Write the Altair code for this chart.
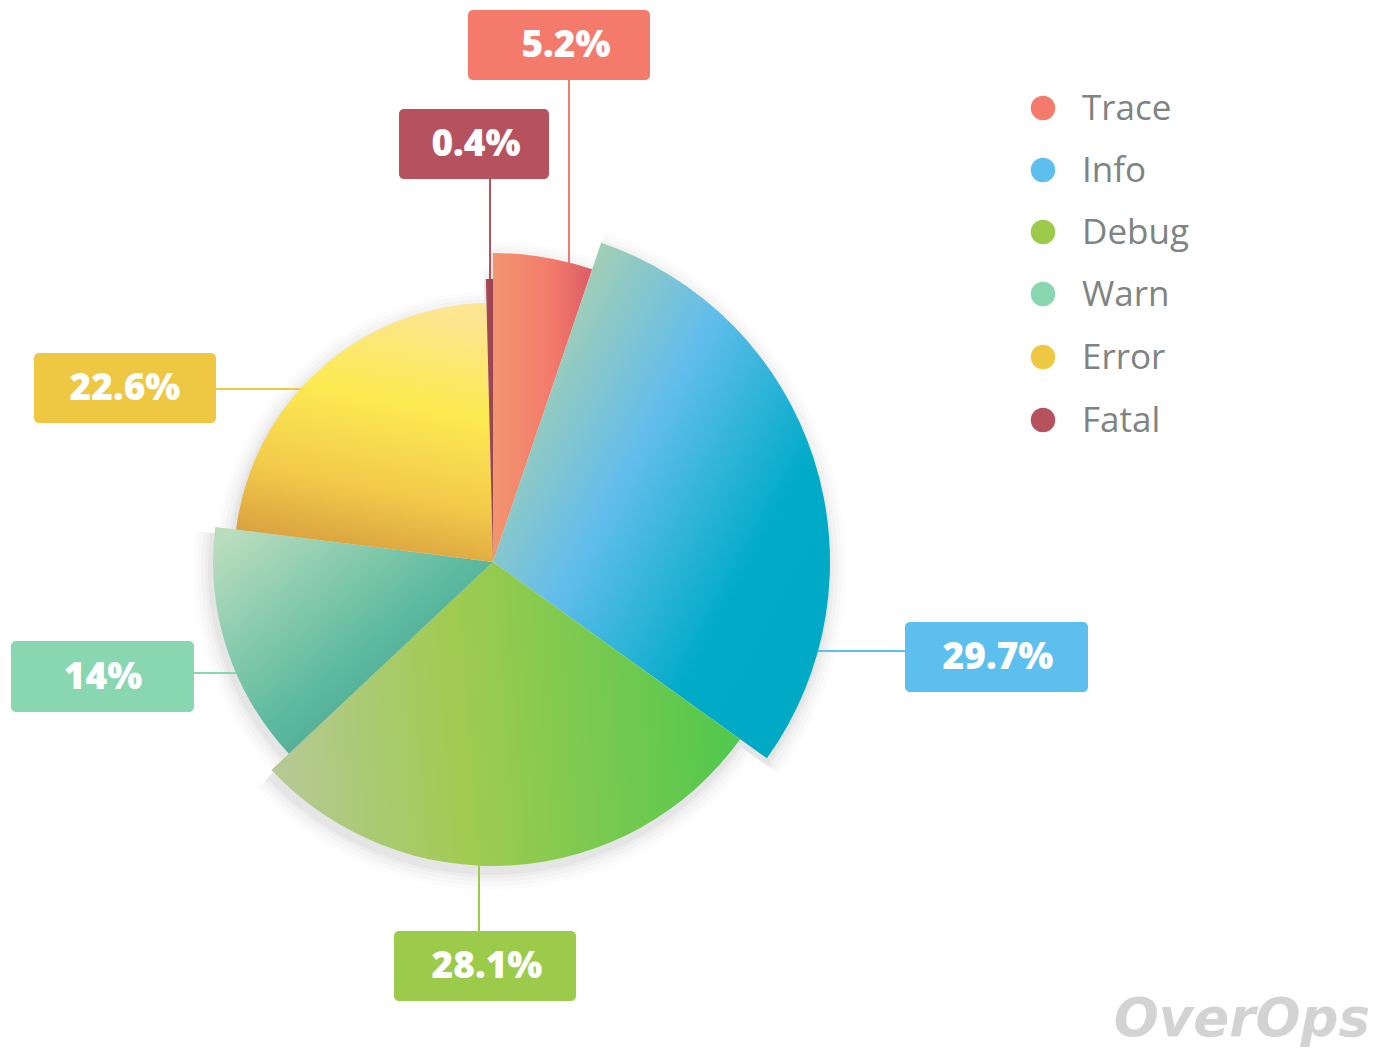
import math
import altair as alt
import pandas as pd

# ---- data ----
categories = ["Trace", "Info", "Debug", "Warn", "Error", "Fatal"]
shares = [5.2, 29.7, 28.1, 14.0, 22.6, 0.4]
label_text = ["5.2%", "29.7%", "28.1%", "14%", "22.6%", "0.4%"]
colors = ["#f47b6b", "#5cbfee", "#9ccb4b", "#88d7b1", "#eec843", "#b5525e"]

# ---- layout (pixels on the page) ----
CX, CY = 493, 562
outer_radius = {"Trace": 309, "Info": 337, "Debug": 304, "Warn": 280, "Error": 259, "Fatal": 283}
box = {  # x, x2, y, y2
    "Trace": (468, 650, 10, 80),
    "Info": (905, 1088, 622, 692),
    "Debug": (394, 576, 931, 1001),
    "Warn": (11, 194, 641, 712),
    "Error": (34, 216, 353, 423),
    "Fatal": (399, 549, 109, 179),
}
leader = {  # x, x2, y, y2
    "Trace": (569, 569, 80, 300),
    "Info": (780, 905, 651, 651),
    "Debug": (479, 479, 840, 931),
    "Warn": (194, 260, 673, 673),
    "Error": (216, 330, 389, 389),
    "Fatal": (490, 490, 179, 300),
}
text_x = {"Trace": 566, "Info": 998, "Debug": 487, "Warn": 103, "Error": 125, "Fatal": 476}
legend_y = {"Trace": 108, "Info": 170, "Debug": 232, "Warn": 294, "Error": 357, "Fatal": 420}

gradients = {
    "Trace": dict(x1=0, y1=0.5, x2=1, y2=0.5,
                  stops=[(0, "#f1956f"), (0.6, "#f47a6b"), (1, "#d95c66")]),
    "Info": dict(x1=0, y1=0, x2=1, y2=0.84,
                 stops=[(0.18, "#a4cfb3"), (0.45, "#62bdec"), (0.76, "#00abc8"), (1, "#00a9c4")]),
    "Debug": dict(x1=0, y1=0.5, x2=1, y2=0.45,
                  stops=[(0, "#b6c996"), (0.4, "#a0cb50"), (1, "#4fc84e")]),
    "Warn": dict(x1=0, y1=0, x2=1, y2=1,
                 stops=[(0.05, "#b8ddbd"), (0.55, "#5ab99e"), (0.85, "#4c9a8c"), (1, "#487f7c")]),
    "Error": dict(x1=0.6, y1=0, x2=0.4, y2=1,
                  stops=[(0, "#fde591"), (0.35, "#fdeb52"), (0.7, "#f2ca4a"), (1, "#d69b3e")]),
    "Fatal": dict(x1=0, y1=0, x2=1, y2=0,
                  stops=[(0, "#a84a57"), (1, "#9b4351")]),
}

# ---- table ----
starts, ends, acc = [], [], 0.0
for s in shares:
    starts.append(acc)
    acc += s
    ends.append(acc)

df = pd.DataFrame({
    "cat": categories,
    "share": shares,
    "label": label_text,
    "color": colors,
    "start": starts,
    "end": ends,
    "bx": [box[c][0] for c in categories],
    "bx2": [box[c][1] for c in categories],
    "by": [box[c][2] for c in categories],
    "by2": [box[c][3] for c in categories],
    "lx": [leader[c][0] for c in categories],
    "lx2": [leader[c][1] for c in categories],
    "ly": [leader[c][2] for c in categories],
    "ly2": [leader[c][3] for c in categories],
    "tx": [text_x[c] for c in categories],
    "ty": [(box[c][2] + box[c][3]) / 2 for c in categories],
    "legy": [legend_y[c] for c in categories],
})

W, H = 1365, 1043
xs = alt.Scale(domain=[8, 8 + W], nice=False, zero=False)
ys = alt.Scale(domain=[8, 8 + H], range=[0, H], nice=False, zero=False)
ts = alt.Scale(domain=[0, 100], range=[0, 2 * math.pi], zero=False, nice=False)
color_scale = alt.Scale(domain=categories, range=colors)

base = alt.Chart(df)

layers = []

# soft drop shadow
for grow, op in [(18, 0.012), (14, 0.016), (10, 0.02), (6, 0.025), (3, 0.03)]:
    for c in categories:
        layers.append(
            base.transform_filter(alt.datum.cat == c)
            .mark_arc(radius=outer_radius[c] + grow, color="#000000", opacity=op)
            .encode(
                theta=alt.Theta("start:Q", scale=ts, stack=False),
                theta2="end:Q",
                x=alt.value(CX - 8 - 2),
                y=alt.value(CY - 8 + 6),
            )
        )

# leader lines
layers.append(
    base.mark_rule(strokeWidth=2).encode(
        x=alt.X("lx:Q", scale=xs, axis=None),
        x2="lx2:Q",
        y=alt.Y("ly:Q", scale=ys, axis=None),
        y2="ly2:Q",
        color=alt.Color("cat:N", scale=color_scale, legend=None),
    )
)

# slices
for c in categories:
    g = gradients[c]
    grad = alt.LinearGradient(
        gradient="linear",
        x1=g["x1"], y1=g["y1"], x2=g["x2"], y2=g["y2"],
        stops=[alt.GradientStop(offset=o, color=col) for o, col in g["stops"]],
    )
    layers.append(
        base.transform_filter(alt.datum.cat == c)
        .mark_arc(radius=outer_radius[c], color=grad)
        .encode(
            theta=alt.Theta("start:Q", scale=ts, stack=False),
            theta2="end:Q",
            x=alt.value(CX - 8),
            y=alt.value(CY - 8),
        )
    )

# label boxes
layers.append(
    base.mark_rect(cornerRadius=5).encode(
        x=alt.X("bx:Q", scale=xs, axis=None),
        x2="bx2:Q",
        y=alt.Y("by:Q", scale=ys, axis=None),
        y2="by2:Q",
        color=alt.Color("cat:N", scale=color_scale, legend=None),
    )
)

# label texts
layers.append(
    base.mark_text(font="Open Sans", fontWeight=800, fontSize=37, color="white",
                   align="center", baseline="middle", dy=1).encode(
        x=alt.X("tx:Q", scale=xs, axis=None),
        y=alt.Y("ty:Q", scale=ys, axis=None),
        text="label:N",
    )
)

# legend
layers.append(
    base.mark_circle(size=600, opacity=1).encode(
        x=alt.value(1043 - 8),
        y=alt.Y("legy:Q", scale=ys, axis=None),
        color=alt.Color("cat:N", scale=color_scale, legend=None),
    )
)
layers.append(
    base.mark_text(font="Open Sans", fontSize=35, color="#7e8482", align="left",
                   baseline="middle", dy=1).encode(
        x=alt.value(1082 - 8),
        y=alt.Y("legy:Q", scale=ys, axis=None),
        text="cat:N",
    )
)

# watermark
layers.append(
    alt.Chart(pd.DataFrame({"t": ["OverOps"]})).mark_text(
        font="DejaVu Sans", fontWeight="bold", fontStyle="italic", fontSize=53,
        color="#d3d3d3", align="right", baseline="alphabetic",
    ).encode(
        x=alt.value(1370 - 8),
        y=alt.value(1036 - 8),
        text="t:N",
    )
)

chart = (
    alt.layer(*layers)
    .properties(width=W, height=H, padding=0, autosize=alt.AutoSizeParams(type="none"),
                background="white")
    .configure_view(stroke=None)
)

chart.save("out.html", embed_options={"renderer": "svg", "actions": False})
